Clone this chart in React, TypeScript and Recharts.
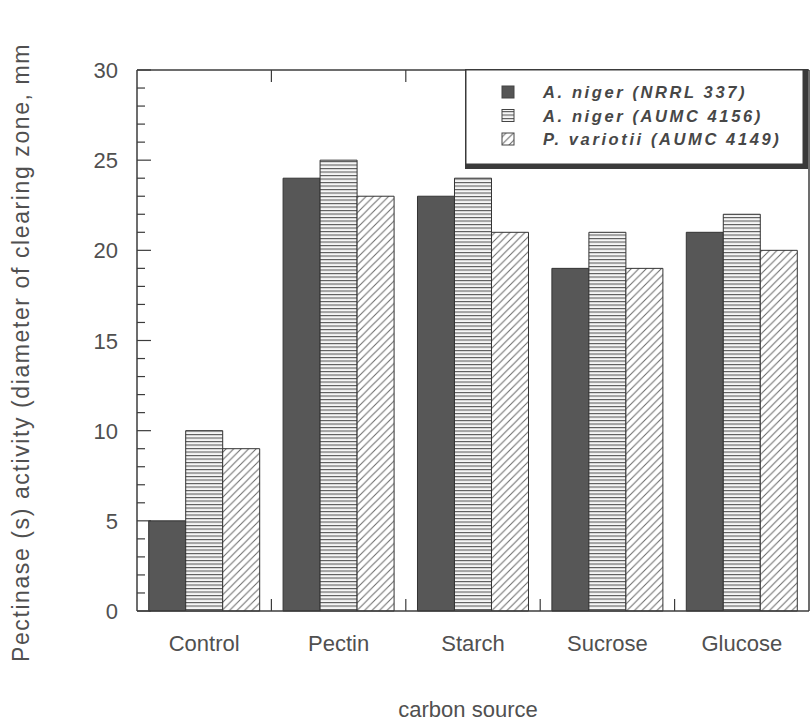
import React from 'react';
import { BarChart, Bar, XAxis, YAxis, Legend } from 'recharts';

// ---- data ----
const categories = ['Control', 'Pectin', 'Starch', 'Sucrose', 'Glucose'];
const nrrl337 = [5, 24, 23, 19, 21];
const aumc4156 = [10, 25, 24, 21, 22];
const aumc4149 = [9, 23, 21, 19, 20];
const seriesNames = ['A. niger (NRRL 337)', 'A. niger (AUMC 4156)', 'P. variotii (AUMC 4149)'];
const yMajorTicks = [0, 5, 10, 15, 20, 25, 30];
const yAllTicks = [0, 1, 2, 3, 4, 5, 6, 7, 8, 9, 10, 11, 12, 13, 14, 15, 16, 17, 18, 19, 20, 21, 22, 23, 24, 25, 26, 27, 28, 29, 30];
const yTitle = 'Pectinase (s) activity (diameter of clearing zone, mm';
const xTitle = 'carbon source';

const data = categories.map((c, i) => ({
  category: c,
  nrrl337: nrrl337[i],
  aumc4156: aumc4156[i],
  aumc4149: aumc4149[i],
}));

// ---- layout ----
const W = 810;
const H = 722;
const MARGIN = { top: 69, right: 0, left: 136, bottom: 110 };
const PLOT_W = W - MARGIN.left - MARGIN.right - 2;
const BAND = PLOT_W / categories.length;
const FONT = '"Liberation Sans", Arial, Helvetica, sans-serif';
const AXIS = '#3c3c3c';
const TEXT = '#505050';

const LeftTick = (p: any) => {
  const { x, y, payload } = p;
  const major = yMajorTicks.includes(payload.value);
  return (
    <g>
      <line x1={x} x2={x + (major ? 14 : 8)} y1={y} y2={y} stroke={AXIS} strokeWidth={1.2} />
      {major && (
        <text x={x - 19} y={y + 8} textAnchor="end" fontSize={22} fontFamily={FONT} fill={TEXT}>
          {payload.value}
        </text>
      )}
    </g>
  );
};

const RightTick = (p: any) => {
  const { x, y, payload } = p;
  const major = yMajorTicks.includes(payload.value);
  return <line x1={x} x2={x - (major ? 14 : 9)} y1={y} y2={y} stroke={AXIS} strokeWidth={1.2} />;
};

const BottomTick = (p: any) => {
  const { x, y, payload, index } = p;
  return (
    <g>
      <text x={x} y={y + 40} textAnchor="middle" fontSize={22} fontFamily={FONT} fill={TEXT}>
        {payload.value}
      </text>
      {index < categories.length - 1 && (
        <line x1={x + BAND / 2} x2={x + BAND / 2} y1={y} y2={y - 12} stroke={AXIS} strokeWidth={1.2} />
      )}
    </g>
  );
};

const TopTick = (p: any) => {
  const { x, y, index } = p;
  if (index >= categories.length - 1) return <g />;
  return <line x1={x + BAND / 2} x2={x + BAND / 2} y1={y} y2={y + 12} stroke={AXIS} strokeWidth={1.2} />;
};

const YTitle = (p: any) => {
  const vb = p.viewBox || { x: MARGIN.left, y: MARGIN.top, width: 1, height: H - MARGIN.top - MARGIN.bottom };
  const cx = vb.x + (vb.width || 0) - 108;
  const cy = vb.y + vb.height / 2 + 12;
  return (
    <text
      x={cx}
      y={cy}
      transform={`rotate(-90, ${cx}, ${cy})`}
      textAnchor="middle"
      fontSize={23}
      letterSpacing={1.6}
      fontFamily={FONT}
      fill={TEXT}
    >
      {yTitle}
    </text>
  );
};

const XTitle = (p: any) => {
  const vb = p.viewBox || { x: MARGIN.left, y: H - MARGIN.bottom, width: PLOT_W, height: 1 };
  return (
    <text x={vb.x + vb.width / 2 - 5} y={vb.y + 106} textAnchor="middle" fontSize={22} fontFamily={FONT} fill={TEXT}>
      {xTitle}
    </text>
  );
};

const swatchFills = ['#555555', 'url(#lg-hlines)', 'url(#lg-hatch)'];

const LegendBox = () => (
  <svg width={344} height={101} style={{ display: 'block' }}>
    <defs>
      <pattern id="lg-hlines" patternUnits="userSpaceOnUse" width={4} height={3.5}>
        <rect width={4} height={3.5} fill="#f6f6f6" />
        <rect y={0} width={4} height={1.1} fill="#5a5a5a" />
      </pattern>
      <pattern id="lg-hatch" patternUnits="userSpaceOnUse" width={7.5} height={7.5}>
        <rect width={7.5} height={7.5} fill="#ffffff" />
        <path d="M0,7.5 L7.5,0 M-2,2 L2,-2 M5.5,9.5 L9.5,5.5" stroke="#666" strokeWidth={1} />
      </pattern>
    </defs>
    <rect x={0} y={0} width={343} height={100} fill="#3a3a3a" />
    <rect x={1.5} y={1.5} width={336} height={93} fill="#ffffff" />
    {seriesNames.map((name, i) => (
      <g key={name}>
        <rect x={37} y={17 + i * 23.5} width={12} height={12} fill={swatchFills[i]} stroke="#444" strokeWidth={1} />
        <text
          x={78}
          y={29 + i * 23.5}
          fontSize={16.5}
          fontStyle="italic"
          fontWeight="bold"
          letterSpacing={2.6}
          fontFamily={FONT}
          fill="#474747"
        >
          {name}
        </text>
      </g>
    ))}
  </svg>
);

export default function App() {
  return (
    <div style={{ position: 'absolute', left: 0, top: 0, width: W, height: H, background: '#fff' }}>
      <BarChart
        width={W}
        height={H}
        data={data}
        margin={MARGIN}
        barCategoryGap="8.7%"
        barGap={0}
      >
        <defs>
          <pattern id="hlines" patternUnits="userSpaceOnUse" width={4} height={3.5}>
            <rect width={4} height={3.5} fill="#f6f6f6" />
            <rect y={0} width={4} height={1.1} fill="#5a5a5a" />
          </pattern>
          <pattern id="hatch" patternUnits="userSpaceOnUse" width={7.5} height={7.5}>
            <rect width={7.5} height={7.5} fill="#ffffff" />
            <path d="M0,7.5 L7.5,0 M-2,2 L2,-2 M5.5,9.5 L9.5,5.5" stroke="#6a6a6a" strokeWidth={1} />
          </pattern>
        </defs>
        <XAxis
          xAxisId="b"
          dataKey="category"
          orientation="bottom"
          height={1}
          tickSize={0}
          tickMargin={0}
          interval={0}
          tickLine={false}
          tick={(p: any) => <BottomTick {...p} />}
          axisLine={{ stroke: AXIS, strokeWidth: 1.5 }}
          label={{ content: (p: any) => <XTitle {...p} /> }}
        />
        <XAxis
          xAxisId="t"
          dataKey="category"
          orientation="top"
          height={1}
          tickSize={0}
          tickMargin={0}
          interval={0}
          tickLine={false}
          tick={(p: any) => <TopTick {...p} />}
          axisLine={{ stroke: AXIS, strokeWidth: 1.5 }}
        />
        <YAxis
          yAxisId="l"
          orientation="left"
          width={1}
          domain={[0, 30]}
          ticks={yAllTicks}
          interval={0}
          tickSize={0}
          tickMargin={0}
          tickLine={false}
          tick={(p: any) => <LeftTick {...p} />}
          axisLine={{ stroke: AXIS, strokeWidth: 1.5 }}
          label={{ content: (p: any) => <YTitle {...p} /> }}
        />
        <YAxis
          yAxisId="r"
          orientation="right"
          width={1}
          domain={[0, 30]}
          ticks={yAllTicks}
          interval={0}
          tickSize={0}
          tickMargin={0}
          tickLine={false}
          tick={(p: any) => <RightTick {...p} />}
          axisLine={{ stroke: AXIS, strokeWidth: 1.5 }}
        />
        <Legend
          content={() => <LegendBox />}
          layout="vertical"
          align="center"
          verticalAlign="middle"
          wrapperStyle={{ position: 'absolute', left: 465, top: 69, width: 344, height: 101 }}
        />
        <Bar xAxisId="b" yAxisId="l" dataKey="nrrl337" name={seriesNames[0]} fill="#575757" stroke="#333" strokeWidth={1} isAnimationActive={false} />
        <Bar xAxisId="b" yAxisId="l" dataKey="aumc4156" name={seriesNames[1]} fill="url(#hlines)" stroke="#333" strokeWidth={1} isAnimationActive={false} />
        <Bar xAxisId="b" yAxisId="l" dataKey="aumc4149" name={seriesNames[2]} fill="url(#hatch)" stroke="#333" strokeWidth={1} isAnimationActive={false} />
      </BarChart>
    </div>
  );
}
